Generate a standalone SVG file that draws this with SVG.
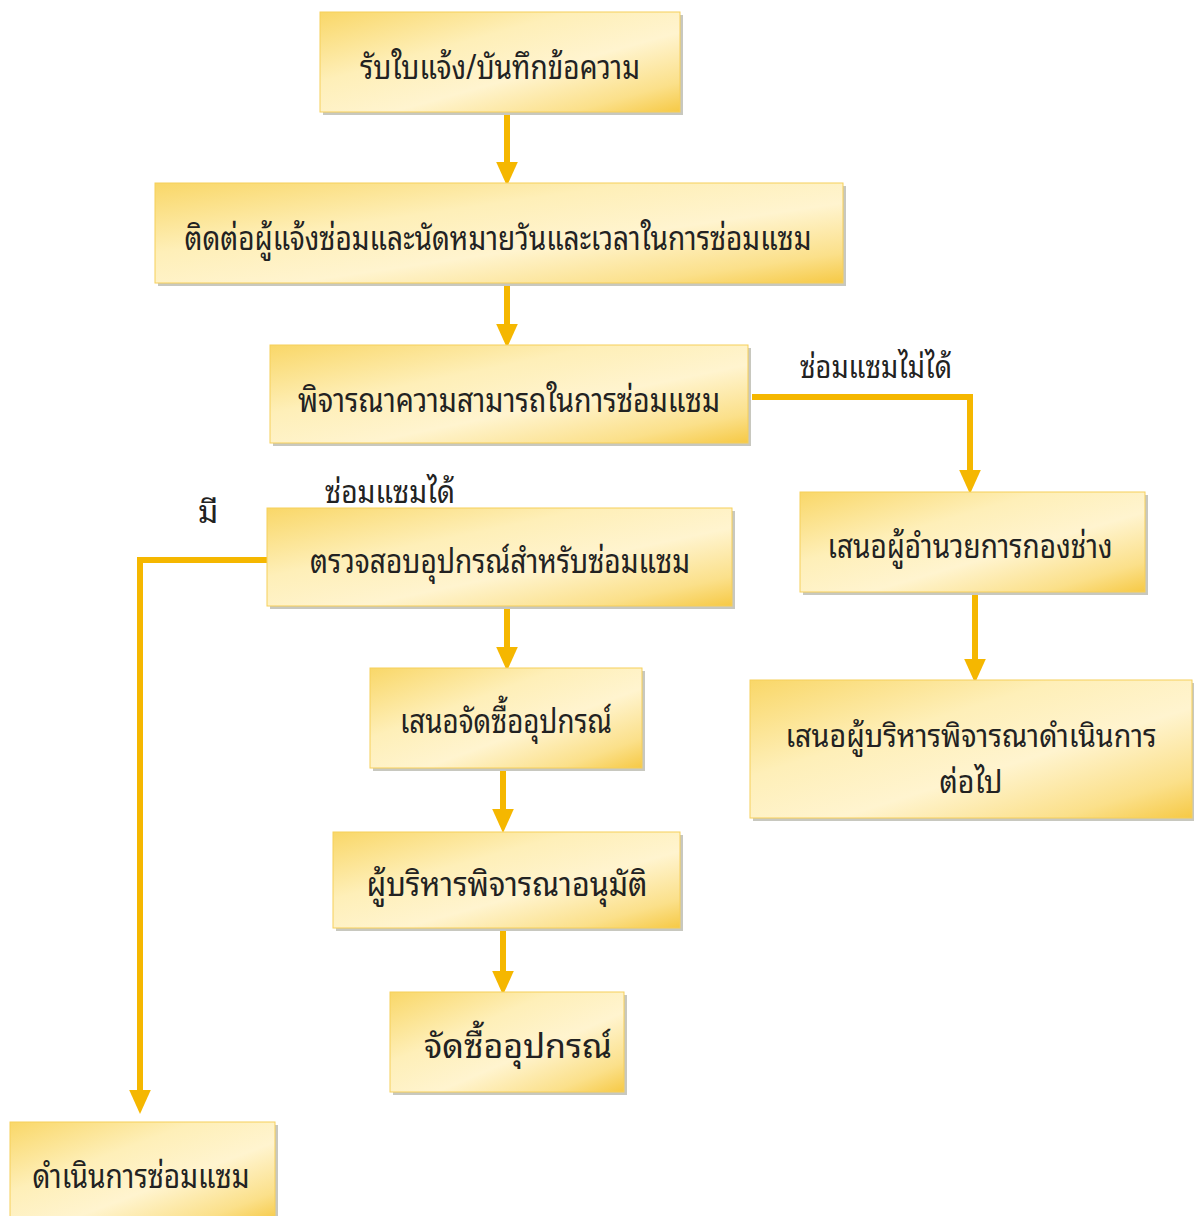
<svg xmlns="http://www.w3.org/2000/svg" width="1194" height="1216" viewBox="0 0 1194 1216">
<defs>
<linearGradient id="g" x1="0" y1="0" x2="1" y2="1">
<stop offset="0" stop-color="#F9D768"/>
<stop offset="0.35" stop-color="#FEEFB8"/>
<stop offset="0.6" stop-color="#FFF4CF"/>
<stop offset="0.85" stop-color="#FBE08A"/>
<stop offset="1" stop-color="#F6C945"/>
</linearGradient>
<marker id="ah" markerWidth="4" markerHeight="4" refX="2" refY="2" orient="auto" markerUnits="strokeWidth" viewBox="0 0 4 4">
<path d="M0,0.2 L4,2 L0,3.8 z" fill="#F5B700"/>
</marker>
</defs>
<style>
.box{fill:url(#g);stroke:#F6CF5A;stroke-width:1}
.sh{fill:#9A9A8A;opacity:0.55}
.t{font-family:"Noto Sans Thai Looped","Loma","Garuda","Noto Sans Thai","Noto Sans","DejaVu Sans",sans-serif;font-size:34px;fill:#222222;text-anchor:middle}
.t2{font-size:31px}
.lbl{font-family:"Noto Sans Thai Looped","Loma","Garuda","Noto Sans Thai","Noto Sans","DejaVu Sans",sans-serif;font-size:32px;fill:#222222}
.c{fill:none;stroke:#F5B700;stroke-width:6}
</style>
<rect width="1194" height="1216" fill="#FFFFFF"/>
<g id="connectors">
<line class="c" x1="507" y1="115" x2="507" y2="174" marker-end="url(#ah)"/>
<line class="c" x1="507" y1="286" x2="507" y2="336" marker-end="url(#ah)"/>
<polyline class="c" points="752,397 970,397 970,482" marker-end="url(#ah)"/>
<line class="c" x1="975" y1="595" x2="975" y2="671" marker-end="url(#ah)"/>
<polyline class="c" points="267,560 140,560 140,1102" marker-end="url(#ah)"/>
<line class="c" x1="507" y1="609" x2="507" y2="659" marker-end="url(#ah)"/>
<line class="c" x1="503" y1="771" x2="503" y2="821" marker-end="url(#ah)"/>
<line class="c" x1="503" y1="931" x2="503" y2="983" marker-end="url(#ah)"/>
</g>
<g id="n1"><rect class="sh" x="323" y="15" width="360" height="100"/><rect class="box" x="320" y="12" width="360" height="100"/><text class="t" x="500" y="79" textLength="280" lengthAdjust="spacingAndGlyphs">รับใบแจ้ง/บันทึกข้อความ</text></g>
<g id="n2"><rect class="sh" x="158" y="186" width="688" height="100"/><rect class="box" x="155" y="183" width="688" height="100"/><text class="t" x="498" y="250" textLength="627" lengthAdjust="spacingAndGlyphs">ติดต่อผู้แจ้งซ่อมและนัดหมายวันและเวลาในการซ่อมแซม</text></g>
<g id="n3"><rect class="sh" x="273" y="348" width="478" height="98"/><rect class="box" x="270" y="345" width="478" height="98"/><text class="t" x="509" y="412" textLength="422" lengthAdjust="spacingAndGlyphs">พิจารณาความสามารถในการซ่อมแซม</text></g>
<g id="n4"><rect class="sh" x="803" y="495" width="345" height="100"/><rect class="box" x="800" y="492" width="345" height="100"/><text class="t" x="970" y="558" textLength="285" lengthAdjust="spacingAndGlyphs">เสนอผู้อำนวยการกองช่าง</text></g>
<g id="n5"><rect class="sh" x="753" y="683" width="442" height="138"/><rect class="box" x="750" y="680" width="442" height="138"/><text class="t t2" x="971" y="747" textLength="371" lengthAdjust="spacingAndGlyphs">เสนอผู้บริหารพิจารณาดำเนินการ</text><text class="t t2" x="971" y="793" textLength="63" lengthAdjust="spacingAndGlyphs">ต่อไป</text></g>
<g id="n6"><rect class="sh" x="270" y="511" width="465" height="98"/><rect class="box" x="267" y="508" width="465" height="98"/><text class="t" x="500" y="573" textLength="380" lengthAdjust="spacingAndGlyphs">ตรวจสอบอุปกรณ์สำหรับซ่อมแซม</text></g>
<g id="n7"><rect class="sh" x="373" y="671" width="272" height="100"/><rect class="box" x="370" y="668" width="272" height="100"/><text class="t" x="506" y="733" textLength="212" lengthAdjust="spacingAndGlyphs">เสนอจัดซื้ออุปกรณ์</text></g>
<g id="n8"><rect class="sh" x="336" y="835" width="347" height="96"/><rect class="box" x="333" y="832" width="347" height="96"/><text class="t" x="507" y="896" textLength="281" lengthAdjust="spacingAndGlyphs">ผู้บริหารพิจารณาอนุมัติ</text></g>
<g id="n9"><rect class="sh" x="393" y="995" width="234" height="100"/><rect class="box" x="390" y="992" width="234" height="100"/><text class="t" x="518" y="1058" textLength="188" lengthAdjust="spacingAndGlyphs">จัดซื้ออุปกรณ์</text></g>
<g id="n10"><rect class="sh" x="13" y="1125" width="265" height="100"/><rect class="box" x="10" y="1122" width="265" height="100"/><text class="t" x="141" y="1188" textLength="217" lengthAdjust="spacingAndGlyphs">ดำเนินการซ่อมแซม</text></g>
<g id="labels">
<text class="lbl" x="800" y="378" textLength="152" lengthAdjust="spacingAndGlyphs">ซ่อมแซมไม่ได้</text>
<text class="lbl" x="325" y="503" textLength="130" lengthAdjust="spacingAndGlyphs">ซ่อมแซมได้</text>
<text class="lbl" x="198" y="523">มี</text>
</g>
</svg>
